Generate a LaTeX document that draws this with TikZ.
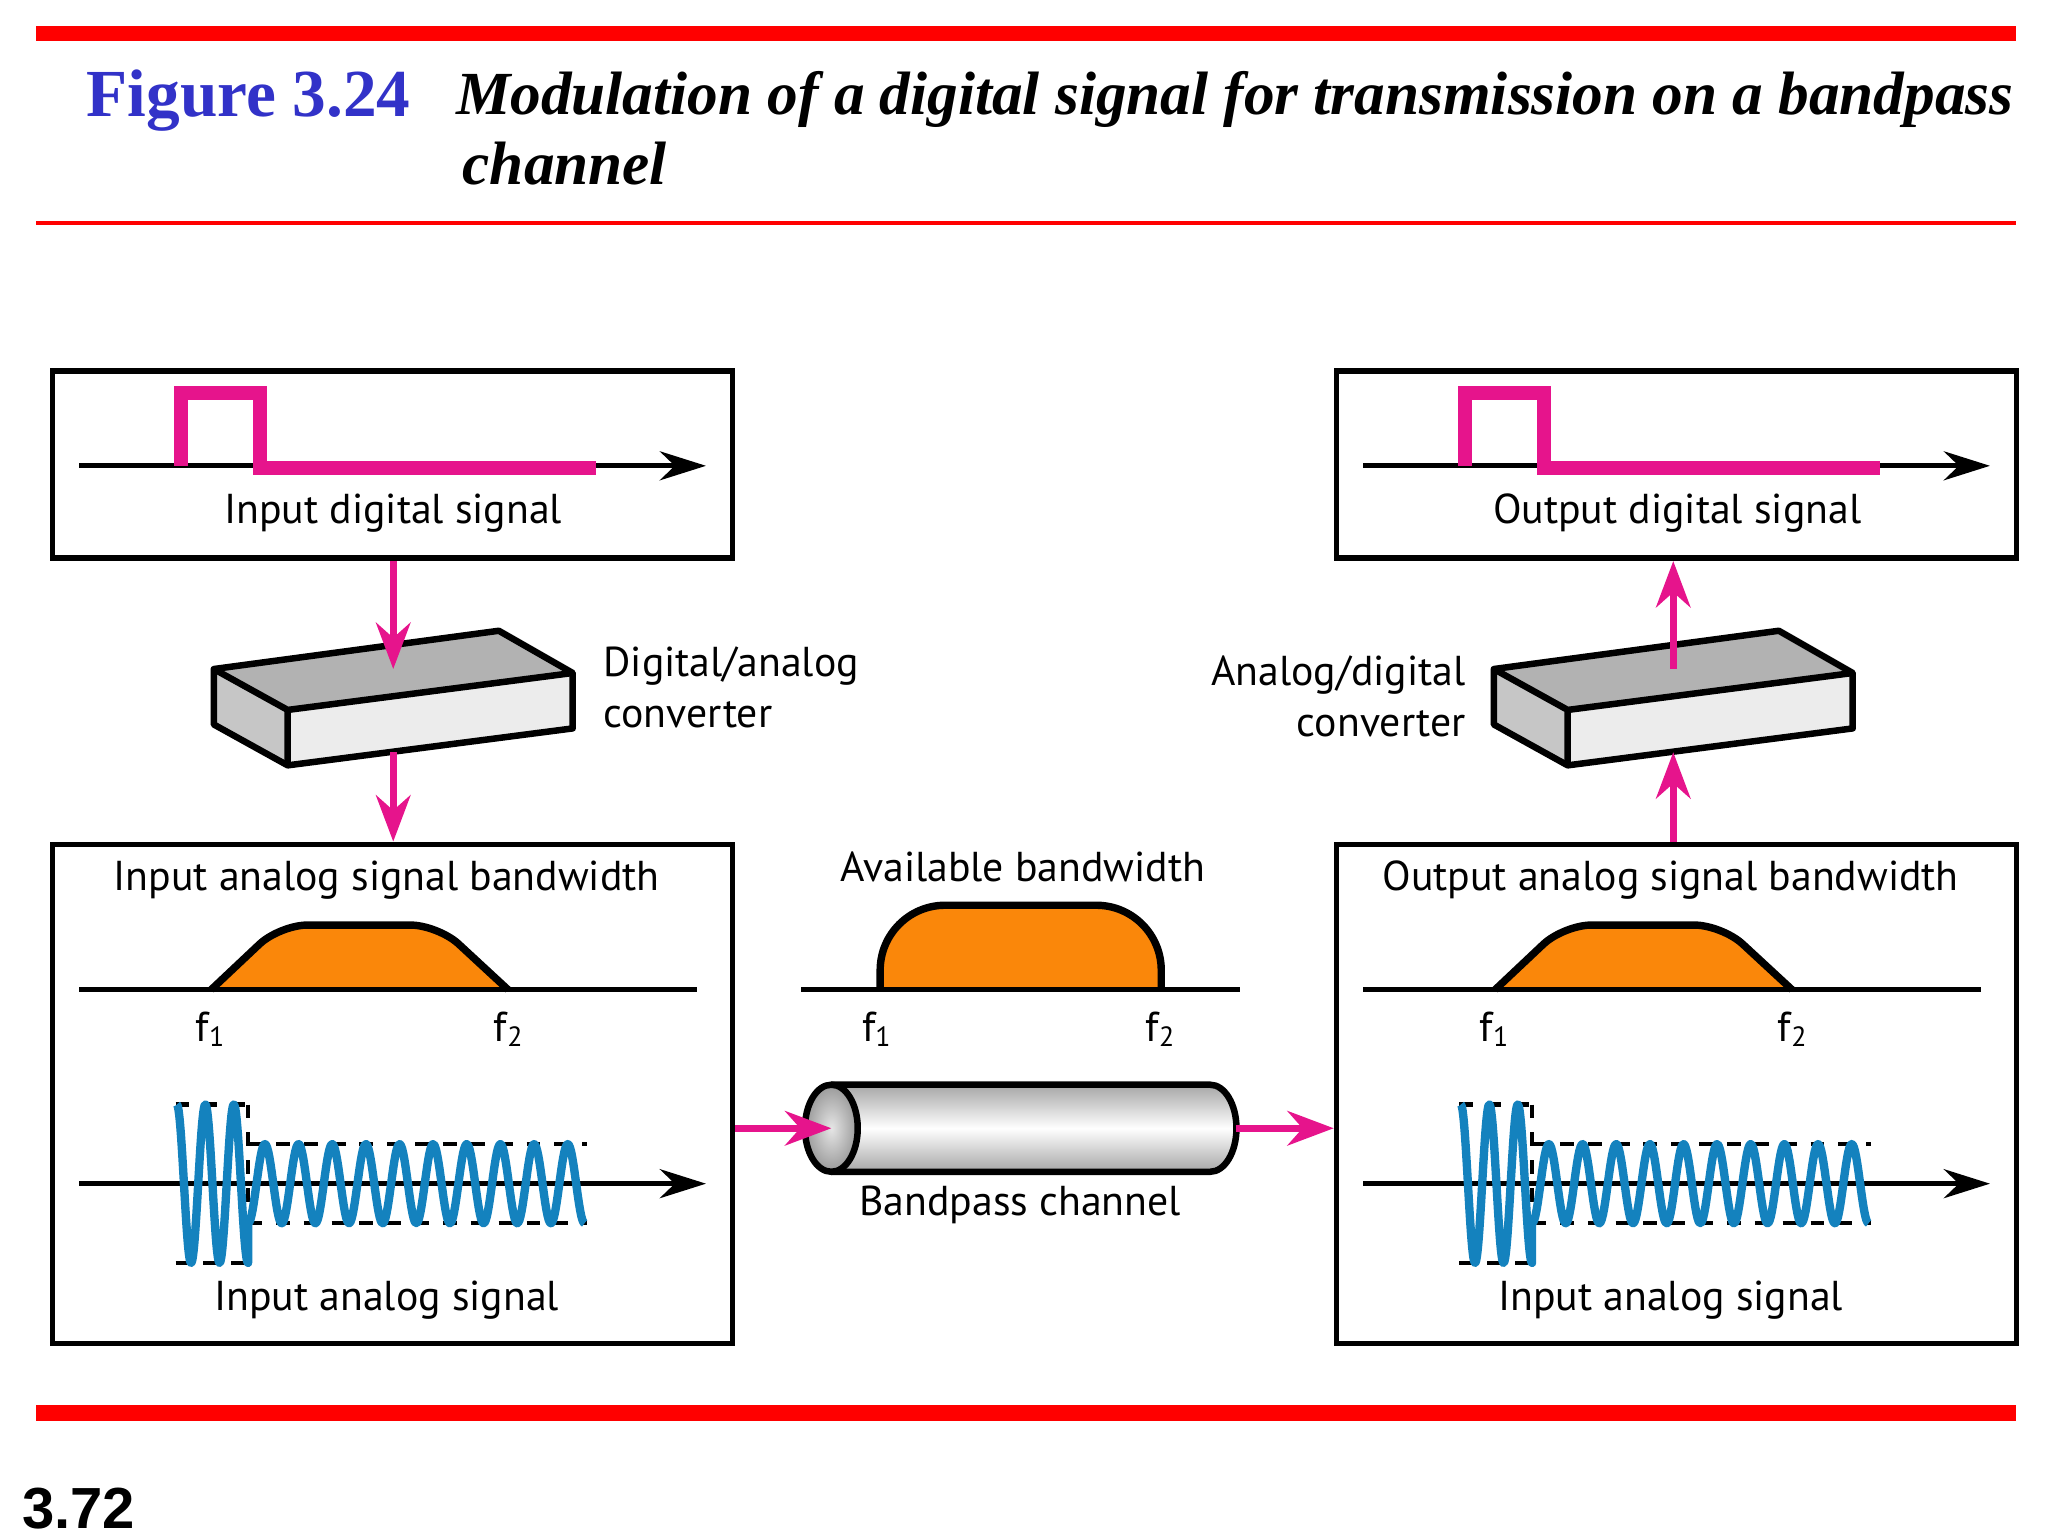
\documentclass[tikz,border=0pt]{standalone}
\usepackage{fontspec}
\setmainfont{Liberation Serif}
\newfontfamily\lab{PT Sans}
\newfontfamily\arial{Liberation Sans}
\usetikzlibrary{arrows.meta}
\definecolor{mag}{RGB}{230,20,140}
\definecolor{org}{RGB}{250,135,10}
\definecolor{wblue}{RGB}{20,130,190}
\definecolor{ttl}{RGB}{50,50,200}
\tikzset{
 box/.style={draw,line width=1.2pt},
 axis/.style={line width=1pt},
 axarr/.style={line width=1pt,-{Stealth[length=3.5mm,width=2.2mm]}},
 marr/.style={mag,line width=1.6pt,-{Stealth[length=3.5mm,width=2.6mm]}},
 pulse/.style={mag,line width=3pt},
 lbl/.style={font=\lab\fontsize{9}{11}\selectfont},
 wave/.style={wblue,line width=1.8pt},
 dsh/.style={dashed,line width=0.9pt},
 band/.style={fill=org,draw=black,line width=1.6pt,rounded corners=6pt},
}
\begin{document}
\begin{tikzpicture}[x=0.01cm,y=-0.01cm]
\useasboundingbox (0,0) rectangle (1552,1164);
% bars
\fill[red] (27,20) rectangle (1528,31);
\fill[red] (27,167.5) rectangle (1528,170.5);
\fill[red] (27,1065) rectangle (1528,1077);
\node[anchor=base west,font=\bfseries\fontsize{14.5}{17}\selectfont,text=ttl,inner sep=0] (fig) at (65,88) {Figure 3.24};
\node[anchor=base west,font=\bfseries\itshape\fontsize{13.2}{16}\selectfont,inner sep=0] (t1) at (345,87) {Modulation of a digital signal for transmission on a bandpass};
\node[anchor=base west,font=\bfseries\itshape\fontsize{13.2}{16}\selectfont,inner sep=0] (t2) at (350,140) {channel};
\node[anchor=base west,font=\arial\bfseries\fontsize{12.5}{15}\selectfont,inner sep=0] (pg) at (16,1158) {3.72};
% boxes
\node[box,minimum width=5.15cm,minimum height=1.42cm,inner sep=0] (b1) at (297.5,352) {};
\node[box,minimum width=5.15cm,minimum height=1.42cm,inner sep=0] (b4) at (1270.5,352) {};
\node[box,minimum width=5.15cm,minimum height=3.78cm,inner sep=0] (b2) at (297.5,829) {};
\node[box,minimum width=5.15cm,minimum height=3.78cm,inner sep=0] (b3) at (1270.5,829) {};
% digital signals
\foreach \o/\t in {0/Input digital signal,973/Output digital signal}{
 \begin{scope}[xshift=\o*0.01cm]
 \draw[axarr] (60,353) -- (535,353);
 \draw[pulse] (137,353) -- (137,298) -- (197,298) -- (197,355) -- (452,355);
 \node[lbl] at (298,389) {\t};
 \end{scope}}
% analog boxes
\foreach \o/\t/\u in {0/Input analog signal bandwidth/Input analog signal,973/Output analog signal bandwidth/Input analog signal}{
 \begin{scope}[xshift=\o*0.01cm]
 \node[lbl] at (293,667) {\t};
 \draw[band] (160,750) -- (212,701) -- (332,701) -- (385,750);
 \draw[axis] (60,750) -- (528,750);
 \node[lbl] at (160,780) {f\textsubscript{1}};
 \node[lbl] at (386,780) {f\textsubscript{2}};
 \draw[axarr] (60,897) -- (535,897);
 \draw[dsh] (133,837) -- (188,837) (133,957) -- (188,957) (188,837) -- (188,957);
 \draw[dsh] (188,867) -- (445,867) (188,927) -- (445,927);
 \draw[wave,line join=round] plot[domain=134:188,samples=120] (\x,{897-60*sin((\x-134)/21.6*360+90)})
   -- plot[domain=188:443,samples=300] (\x,{897-30*sin((\x-188)/25.5*360+270)});
 \node[lbl] at (293,985) {\u};
 \end{scope}}
% middle
\node[lbl] (avb) at (775,657) {Available bandwidth};
\draw[band,rounded corners=14pt] (667,750) -- (667,686) -- (880,686) -- (880,750);
\draw[axis] (607,750) -- (940,750);
\node[lbl] at (665,780) {f\textsubscript{1}};
\node[lbl] at (880,780) {f\textsubscript{2}};
% cylinder
\shade[top color=gray!70,bottom color=gray!70,middle color=white] (630,822) -- (917,822) arc[start angle=-90,end angle=90,x radius=20,y radius=33] -- (630,888) -- cycle;
\draw[line width=1.4pt] (630,822) -- (917,822) arc[start angle=-90,end angle=90,x radius=20,y radius=33] -- (630,888);
\shade[inner color=gray!20,outer color=gray!80,draw=black,line width=1.4pt] (630,855) ellipse[x radius=20,y radius=33];
\coordinate (cl) at (630,855);
\coordinate (cr) at (937,855);
\node[lbl] at (773,913) {Bandpass channel};
% converters
\foreach \o/\n in {0/c1,970/c2}{
 \begin{scope}[xshift=\o*0.01cm,line width=1.4pt,line join=round]
 \fill[gray!60] (162,507) -- (378,478) -- (434,510) -- (218,538) -- cycle;
 \fill[gray!15] (218,538) -- (434,510) -- (434,552) -- (218,580) -- cycle;
 \fill[gray!45] (162,507) -- (218,538) -- (218,580) -- (162,549) -- cycle;
 \draw (162,507) -- (378,478) -- (434,510) -- (434,552) -- (218,580) -- (162,549) -- cycle;
 \draw (162,507) -- (218,538) -- (434,510) (218,538) -- (218,580);
 \coordinate (\n t) at (298,507);
 \coordinate (\n b) at (298,570);
 \end{scope}}
\node[lbl,anchor=west,align=left] (l1) at (445,521) {Digital/analog\\converter};
\node[lbl,anchor=east,align=right] (l2) at (1123,528) {Analog/digital\\converter};
% arrows
\draw[marr] (b1.south -| c1t) -- (c1t);
\draw[marr] (c1b) -- (b2.north -| c1b);
\draw[marr] (b3.north -| c2b) -- (c2b);
\draw[marr] (c2t) -- (b4.south -| c2t);
\draw[marr] (b2.east |- cl) -- (cl);
\draw[marr] (cr) -- (b3.west |- cr);
\end{tikzpicture}
\end{document}
